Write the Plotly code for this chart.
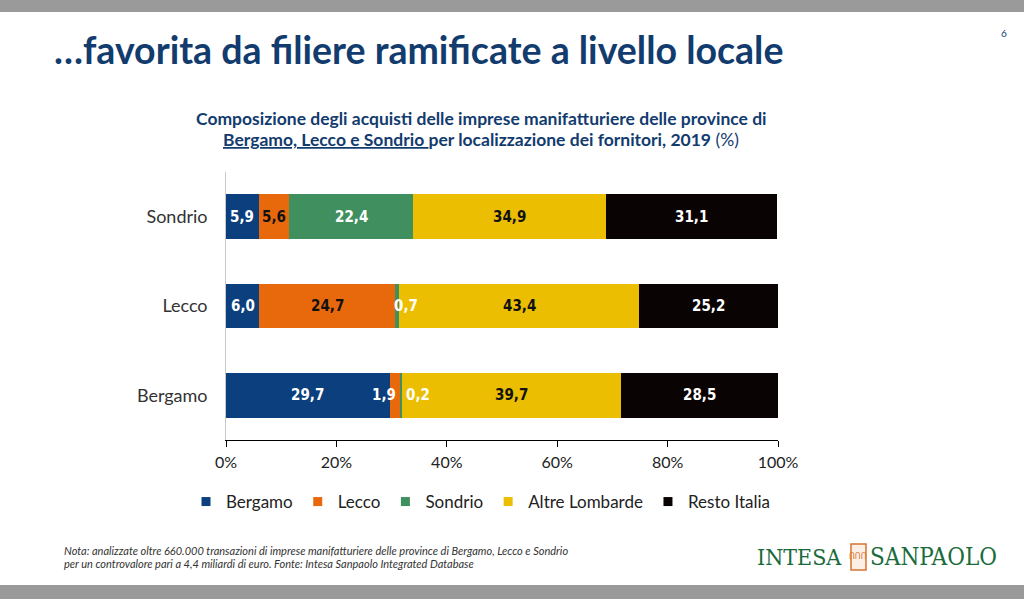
import plotly.graph_objects as go

provinces = ["Bergamo", "Lecco", "Sondrio"]
series_names = ["Bergamo", "Lecco", "Sondrio", "Altre Lombarde", "Resto Italia"]
bergamo_vals = [29.7, 6.0, 5.9]
lecco_vals = [1.9, 24.7, 5.6]
sondrio_vals = [0.2, 0.7, 22.4]
altre_vals = [39.7, 43.4, 34.9]
resto_vals = [28.5, 25.2, 31.1]
tick_vals = [0, 20, 40, 60, 80, 100]
tick_text = ["0%", "20%", "40%", "60%", "80%", "100%"]

values = [bergamo_vals, lecco_vals, sondrio_vals, altre_vals, resto_vals]
colors = ["#0C3F7D", "#E8680C", "#3F8F5F", "#EBBE02", "#0A0303"]
label_colors = [
    ["white", "white", "white"],
    ["white", "#111111", "#111111"],
    ["white", "white", "white"],
    ["#111111", "#111111", "#111111"],
    ["white", "white", "white"],
]
label_shift = [
    [0, 0, 0],
    [-11, 0, 0],
    [17, 9, 0],
    [0, 0, 0],
    [0, 0, 0],
]

NAVY = "#123B6E"
fig = go.Figure()
for name, vals, col in zip(series_names, values, colors):
    fig.add_trace(go.Bar(
        y=provinces, x=vals, name=name, orientation="h",
        marker=dict(color=col, line=dict(width=0)), width=0.5,
        hoverinfo="x+name", showlegend=False,
    ))
for name, col in zip(series_names, colors):
    fig.add_trace(go.Scatter(
        x=[None], y=[None], mode="markers", name=name,
        marker=dict(symbol="square", size=9, color=col), showlegend=True,
    ))

annotations = []
cum = [0.0, 0.0, 0.0]
for si, vals in enumerate(values):
    for pi, v in enumerate(vals):
        annotations.append(dict(
            x=cum[pi] + v / 2, y=provinces[pi], xref="x", yref="y",
            text="<b>" + f"{v:.1f}".replace(".", ",") + "</b>",
            showarrow=False, xshift=label_shift[si][pi],
            font=dict(family="DejaVu Sans Condensed", size=15, color=label_colors[si][pi]),
        ))
        cum[pi] += v

px_annotations = [
    dict(x=52, y=49, text="<b>…favorita da filiere ramificate a livello locale</b>",
         xanchor="left", font=dict(family="Lato", size=37.5, color=NAVY)),
    dict(x=1004, y=33, text="6", xanchor="center", font=dict(family="Lato", size=10, color=NAVY)),
    dict(x=481, y=118.5, text="<b>Composizione degli acquisti delle imprese manifatturiere delle province di</b>",
         xanchor="center", font=dict(family="Lato", size=17.5, color=NAVY)),
    dict(x=481, y=139.5, text="<b><u>Bergamo, Lecco e Sondrio </u>per localizzazione dei fornitori, 2019</b> (%)",
         xanchor="center", font=dict(family="Lato", size=17.5, color=NAVY)),
    dict(x=62, y=550.5, text="<i>Nota: analizzate oltre 660.000 transazioni di imprese manifatturiere delle province di Bergamo, Lecco e Sondrio</i>",
         xanchor="left", font=dict(family="Lato", size=11, color="#333333")),
    dict(x=62, y=563.5, text="<i>per un controvalore pari a 4,4 miliardi di euro. Fonte: Intesa Sanpaolo Integrated Database</i>",
         xanchor="left", font=dict(family="Lato", size=11, color="#333333")),
    dict(x=844, y=557, text="INTESA", xanchor="right",
         font=dict(family="DejaVu Serif Condensed", size=23, color="#1A6B3C")),
    dict(x=868, y=557, text="SANPAOLO", xanchor="left",
         font=dict(family="DejaVu Serif Condensed", size=24, color="#1A6B3C")),
    dict(x=858, y=556, text="ՈՈՈ", xanchor="center",
         font=dict(family="DejaVu Sans", size=8, color="#D9732E")),
]
W, H = 1024, 599
ML, MR, MT, MB = 226, 246, 172, 159
pw, ph = W - ML - MR, H - MT - MB
for a in px_annotations:
    a.update(xref="paper", yref="paper", showarrow=False, yanchor="middle",
             x=(a["x"] - ML) / pw, y=(H - MB - a["y"]) / ph)
annotations += px_annotations

def px_rect(x0, y0, x1, y1, **kw):
    return dict(type="rect", xref="paper", yref="paper",
                x0=(x0 - ML) / pw, x1=(x1 - ML) / pw,
                y0=(H - MB - y1) / ph, y1=(H - MB - y0) / ph, layer="below", **kw)

shapes = [
    px_rect(0, 0, 1024, 12, fillcolor="#9A9A9A", line=dict(width=0)),
    px_rect(0, 585, 1024, 599, fillcolor="#9A9A9A", line=dict(width=0)),
    px_rect(851, 544, 866, 570, fillcolor="#FBEFE6", line=dict(color="#D9732E", width=1.5)),
]

legend_left_px = 186
fig.update_layout(
    width=W, height=H, margin=dict(l=ML, r=MR, t=MT, b=MB, autoexpand=False),
    barmode="stack", bargap=0.5,
    paper_bgcolor="white", plot_bgcolor="white",
    showlegend=True,
    legend=dict(orientation="h", x=(legend_left_px - ML) / pw, xanchor="left",
                y=(H - MB - 502) / ph, yanchor="middle",
                font=dict(family="Lato", size=17, color="#222222"), itemwidth=30,
                traceorder="normal", tracegroupgap=0),
    xaxis=dict(range=[0, 100], tickvals=tick_vals, ticktext=tick_text, showgrid=False, zeroline=False,
               showline=True, linecolor="black", linewidth=1, ticks="outside", ticklen=6,
               tickcolor="black", tickfont=dict(family="Lato", size=16, color="#222222"),
               ticklabelstandoff=2, fixedrange=True),
    yaxis=dict(categoryorder="array", categoryarray=provinces, range=[-0.5, 2.5], showgrid=False,
               zeroline=False, showline=True, linecolor="#C8C8C8", linewidth=1, ticks="",
               ticksuffix="   ", tickfont=dict(family="Lato", size=18, color="#333333"), fixedrange=True),
    annotations=annotations, shapes=shapes,
)
fig.write_html("out.html")
